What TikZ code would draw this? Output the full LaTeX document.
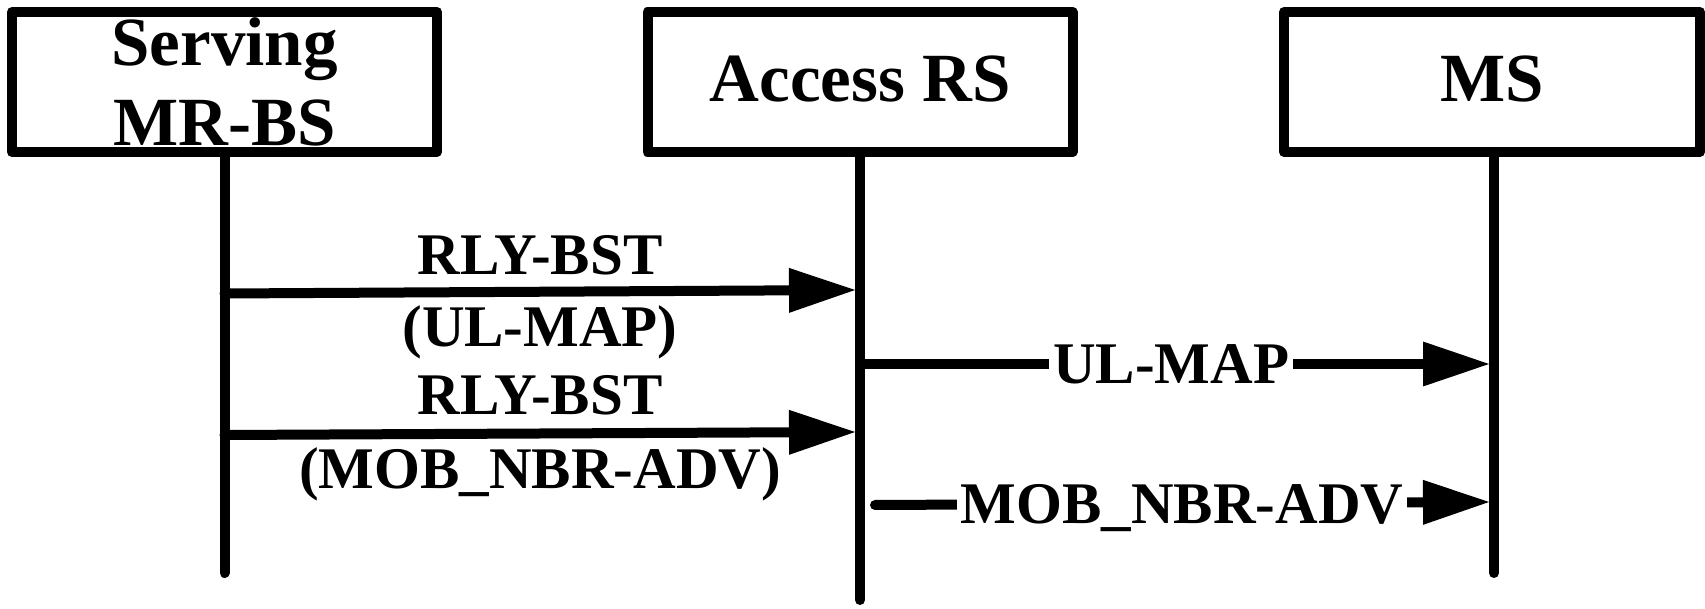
\documentclass[tikz,border=0pt]{standalone}
\usepackage{fontspec}
\setmainfont{Liberation Serif}
\usetikzlibrary{arrows.meta}
\newcommand\bxfont{\fontsize{34.5}{40}\selectfont\bfseries}
\newcommand\mgfont{\fontsize{29.5}{34}\selectfont\bfseries}
\tikzset{
  actorbox/.style={draw, line width=5pt, line join=round, minimum width=212.5pt,
    minimum height=70pt, inner sep=0pt, outer sep=0pt, align=center, font=\bxfont},
  lifeline/.style={line width=5pt, line cap=round},
  msg/.style={line width=5pt, line cap=round,
    -{Triangle[length=33pt, width=22.5pt, line width=0pt]}},
  msglabel/.style={font=\mgfont, inner sep=0pt},
  onlabel/.style={font=\mgfont, fill=white, inner xsep=2pt, inner ysep=0pt, text depth=0pt},
}
\begin{document}
\begin{tikzpicture}[x=0.5pt, y=-0.5pt]
\useasboundingbox (0,0) rectangle (1705,609);
% actors
\node[actorbox] (sbs) at (224.5,82) {Serving\\MR-BS};
\node[actorbox, text depth=3pt] (ars) at (860,82) {Access RS};
\node[actorbox, text depth=3pt, minimum width=208pt] (ms) at (1492,82) {MS};
% lifeline ends
\coordinate (sbsend) at (224.5,573);
\coordinate (arsend) at (860,600);
\coordinate (msend) at (1494,573);
\draw[lifeline] (sbs.south) -- (sbsend);
\draw[lifeline] (ars.south) -- (arsend);
\draw[lifeline] (ms.south -| msend) -- (msend);
% message end points
\coordinate (m1a) at (224.5,293.5);
\coordinate (m1b) at (855,290);
\coordinate (m2a) at (224.5,435);
\coordinate (m2b) at (855,432);
\coordinate (m3a) at (860,364);
\coordinate (m3b) at (1489,364);
\coordinate (m4a) at (875,505);
\coordinate (m4b) at (1489,502);
% messages
\draw[msg] (m1a) -- (m1b);
\node[msglabel, anchor=base] (l1a) at (540,275) {RLY-BST};
\node[msglabel, anchor=base] (l1b) at (540,347) {(UL-MAP)};
\draw[msg] (m2a) -- (m2b);
\node[msglabel, anchor=base] (l2a) at (540,415) {RLY-BST};
\node[msglabel, anchor=base] (l2b) at (540,488) {(MOB\_NBR-ADV)};
\draw[msg] (m3a) -- node[onlabel, pos=0.495] (l3) {UL-MAP} (m3b);
\draw[msg] (m4a) -- node[onlabel, pos=0.50] (l4) {MOB\_NBR-ADV} (m4b);
\end{tikzpicture}
\end{document}
